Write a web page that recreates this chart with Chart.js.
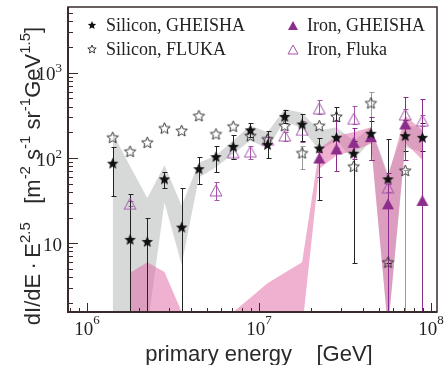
<!DOCTYPE html>
<html>
<head>
<meta charset="utf-8">
<script src="https://cdn.jsdelivr.net/npm/chart.js@4.4.0/dist/chart.umd.min.js"></script>
<style>
  html, body { margin: 0; padding: 0; background: #fff; }
</style>
</head>
<body>
<canvas id="chart" width="446" height="365"></canvas>
<script>
// energy bin centres [GeV]
const energy = [1.41e6, 1.78e6, 2.24e6, 2.82e6, 3.55e6, 4.47e6, 5.62e6, 7.08e6, 8.91e6, 1.12e7,
                1.41e7, 1.78e7, 2.24e7, 2.82e7, 3.55e7, 4.47e7, 5.62e7, 7.08e7, 8.91e7];

// Silicon, GHEISHA (filled stars)
const siGheisha   = [87, 11.1, 10.5, 57, 15.5, 75, 104, 137, 214, 144, 308, 251, 131, 175, 114, 195, 57, 183, 175];
const siGheishaLo = [35.5, 1, 1, 45, 1, 49, 68, 98, 175, 100, 260, 160, 32, 130, 5.8, 94, 5.8, 120, 120];
const siGheishaHi = [136, 38, 20, 68, 44, 102, 140, 188, 258, 209, 369, 329, 170, 400, 160, 270, 168, 280, 260];

// Silicon, FLUKA (open stars)
const siFluka   = [175, 120, 153, 225, 210, 314, 192, 236, 183, 167, 240, 115, 240, 308, 80, 443, 6.0, 71.5, null];
const siFlukaLo = [null, null, null, null, null, null, null, null, null, null, null, 75, null, null, null, 300, null, 1, null];
const siFlukaHi = [null, null, null, null, null, null, null, null, null, null, null, 140, null, null, null, 603, null, 71.5, null];

// Iron, GHEISHA (filled triangles)
const feGheisha   = [null, null, null, null, null, null, null, null, null, null, null, null, 100, 128, 153, 178, 29, 251, 31.8];
const feGheishaLo = [null, null, null, null, null, null, null, null, null, null, null, null, 60, 71, 98, 94, 1, 94, 1];
const feGheishaHi = [null, null, null, null, null, null, null, null, null, null, null, null, 117, 275, 224, 300, 66, 515, 490];

// Iron, Fluka (open triangles)
const feFluka   = [null, 29, null, null, null, null, 41.7, 117, 119, 163, 183, 214, 383, null, 288, null, 44.8, 323, 275];
const feFlukaLo = [null, 27, null, null, null, null, 32.5, 98, 98, 150, 160, 153, 329, null, 251, null, 40, 280, 240];
const feFlukaHi = [null, 31, null, null, null, null, 52.5, 128, 140, 175, 200, 275, 479, null, 411, null, 50, 380, 320];

// shaded bands (grey: silicon, pink: iron)
const greyUp = [195, 80, 34, 82, 27.5, 88, 107, 160, 240, 200, 376, 340, 210, 229, 159, 229, 66, 240, 229];
const greyLo = [1, 1, 1, 30, 5.6, 59, 78, 112, 160, 129, 275, 220, 123, 159, 94, 159, 1, 135, 117];
const pinkUp = [null, 4.5, 6.0, 4.6, 1.56, null, null, 1.56, 2.3, 3.4, 4.5, 6.0, 128, 183, 200, 229, 60, 315, 210];
const pinkLo = [null, 1, 1, 1, 1, null, null, 1, 1, 1, 1, 1, 75, 107, 122, 147, 1, 150, 95];

// axes
const xRange = [7.75e5, 1.083e8];
const yRange = [1.56, 5916];
const xMajor = [1e6, 1e7, 1e8];
const xTickExp = ['6', '7', '8'];
const xMinor = [8e5, 9e5, 2e6, 3e6, 4e6, 5e6, 6e6, 7e6, 8e6, 9e6, 2e7, 3e7, 4e7, 5e7, 6e7, 7e7, 8e7, 9e7];
const yMajor = [10, 100, 1000];
const yTickExp = ['', '2', '3'];
const yMinor = [2, 3, 4, 5, 6, 7, 8, 9, 20, 30, 40, 50, 60, 70, 80, 90,
                200, 300, 400, 500, 600, 700, 800, 900, 2000, 3000, 4000, 5000];

const DARK = '#222';
const FRAME = '#3a2b2b';
const PURPLE = '#8c2d8c';
const LILAC = '#a455a8';

function starIcon(R, filled) {
  const s = Math.ceil(R * 2 + 3);
  const c = document.createElement('canvas');
  c.width = c.height = s;
  const g = c.getContext('2d');
  const cx = s / 2, cy = s / 2 + R * 0.1;
  g.beginPath();
  for (let k = 0; k < 10; k++) {
    const r = k % 2 ? R * 0.45 : R;
    const a = -Math.PI / 2 + k * Math.PI / 5;
    g.lineTo(cx + r * Math.cos(a), cy + r * Math.sin(a));
  }
  g.closePath();
  if (filled) { g.fillStyle = '#111'; g.fill(); }
  else { g.strokeStyle = '#222'; g.lineWidth = 0.9; g.stroke(); }
  return c;
}

function triIcon(w, filled, color) {
  const h = Math.round(w * 0.9);
  const c = document.createElement('canvas');
  c.width = w + 2; c.height = h + 2;
  const g = c.getContext('2d');
  g.beginPath();
  g.moveTo(1 + w / 2, 1);
  g.lineTo(1 + w, 1 + h);
  g.lineTo(1, 1 + h);
  g.closePath();
  if (filled) { g.fillStyle = color; g.fill(); }
  else { g.strokeStyle = color; g.lineWidth = 1; g.stroke(); }
  return c;
}

const icons = {
  siG: starIcon(6, true),
  siF: starIcon(6, false),
  feG: triIcon(12, true, PURPLE),
  feF: triIcon(12, false, LILAC),
  siGl: starIcon(4.4, true),
  siFl: starIcon(4.4, false),
  feGl: triIcon(10, true, PURPLE),
  feFl: triIcon(10, false, LILAC)
};

const pts = (arr) => energy.map((e, i) => ({ x: e, y: arr[i] })).filter(p => p.y != null);

// split band arrays into contiguous runs
function runs(up, lo) {
  const out = [];
  let cur = null;
  up.forEach((v, i) => {
    if (v == null) { cur = null; return; }
    if (!cur) { cur = { up: [], lo: [] }; out.push(cur); }
    cur.up.push({ x: energy[i], y: v });
    cur.lo.push({ x: energy[i], y: lo[i] });
  });
  return out;
}

const datasets = [];
function addBand(up, lo, color, order) {
  runs(up, lo).forEach(r => {
    const idx = datasets.length;
    datasets.push({ type: 'line', data: r.up, fill: idx + 1, backgroundColor: color,
      borderColor: 'transparent', borderWidth: 0, pointRadius: 0, order: order });
    datasets.push({ type: 'line', data: r.lo, fill: false,
      borderColor: 'transparent', borderWidth: 0, pointRadius: 0, order: order });
  });
}
addBand(greyUp, greyLo, '#d7d9d8', 20);
addBand(pinkUp, pinkLo, 'rgba(226,100,163,0.5)', 15);

function addMarkers(arr, icon, order) {
  datasets.push({ type: 'scatter', data: pts(arr), pointStyle: icon, pointRadius: 6,
    marker: true, order: order, clip: false });
}
addMarkers(feFluka, icons.feF, 4);
addMarkers(feGheisha, icons.feG, 3);
addMarkers(siFluka, icons.siF, 2);
addMarkers(siGheisha, icons.siG, 1);

const errorSets = [
  { lo: siFlukaLo, hi: siFlukaHi, color: '#9a9a9a' },
  { lo: feFlukaLo, hi: feFlukaHi, color: LILAC },
  { lo: siGheishaLo, hi: siGheishaHi, color: DARK },
  { lo: feGheishaLo, hi: feGheishaHi, color: PURPLE }
];

function drawErrors(chart) {
  const { ctx, chartArea: a, scales: { x, y } } = chart;
  ctx.save();
  ctx.beginPath();
  ctx.rect(a.left, a.top, a.right - a.left, a.bottom - a.top);
  ctx.clip();
  ctx.lineWidth = 1;
  errorSets.forEach(s => {
    ctx.strokeStyle = s.color;
    s.lo.forEach((lo, i) => {
      if (lo == null) return;
      const px = Math.round(x.getPixelForValue(energy[i])) + 0.5;
      const p1 = Math.round(y.getPixelForValue(s.hi[i])) + 0.5;
      const p0 = Math.round(y.getPixelForValue(lo)) + 0.5;
      ctx.beginPath();
      ctx.moveTo(px, p1); ctx.lineTo(px, p0);
      ctx.moveTo(px - 2, p1); ctx.lineTo(px + 3, p1);
      ctx.moveTo(px - 2, p0); ctx.lineTo(px + 3, p0);
      ctx.stroke();
    });
  });
  ctx.restore();
}

// text with superscripts
function richWidth(ctx, parts, big, small) {
  let w = 0;
  parts.forEach(p => { ctx.font = p.sup ? small : big; w += ctx.measureText(p.t).width; });
  return w;
}
function drawRich(ctx, parts, x, y, big, small, rise) {
  let cx = x;
  parts.forEach(p => {
    ctx.font = p.sup ? small : big;
    ctx.fillText(p.t, cx, p.sup ? y - rise : y);
    cx += ctx.measureText(p.t).width;
  });
}

const SERIF = '"Liberation Serif", "Times New Roman", serif';
const SANS = '"Liberation Sans", Arial, sans-serif';
let errorsDone = false;

const decor = {
  id: 'decor',
  beforeDatasetsDraw() { errorsDone = false; },
  beforeDatasetDraw(chart, args) {
    if (!errorsDone && chart.data.datasets[args.index].marker) {
      drawErrors(chart);
      errorsDone = true;
    }
  },
  afterDraw(chart) {
    const { ctx, chartArea: a, scales: { x, y } } = chart;
    ctx.save();
    ctx.fillStyle = DARK;
    ctx.textBaseline = 'alphabetic';

    // tick marks (inward)
    ctx.strokeStyle = FRAME;
    ctx.lineWidth = 1;
    ctx.beginPath();
    xMajor.forEach(v => { const p = Math.round(x.getPixelForValue(v)) + 0.5; ctx.moveTo(p, a.bottom); ctx.lineTo(p, a.bottom - 9); });
    xMinor.forEach(v => { const p = Math.round(x.getPixelForValue(v)) + 0.5; ctx.moveTo(p, a.bottom); ctx.lineTo(p, a.bottom - 4); });
    yMajor.forEach(v => { const p = Math.round(y.getPixelForValue(v)) + 0.5; ctx.moveTo(a.left, p); ctx.lineTo(a.left + 10, p); });
    yMinor.forEach(v => { const p = Math.round(y.getPixelForValue(v)) + 0.5; ctx.moveTo(a.left, p); ctx.lineTo(a.left + 5, p); });
    ctx.stroke();

    // frame
    ctx.lineWidth = 1.5;
    ctx.strokeRect(a.left, a.top, a.right - a.left, a.bottom - a.top);
    ctx.lineWidth = 2;
    ctx.beginPath();
    ctx.moveTo(a.left, a.top); ctx.lineTo(a.left, a.bottom); ctx.lineTo(a.right, a.bottom);
    ctx.stroke();

    // tick labels
    const big = '19px ' + SERIF, small = '13px ' + SERIF;
    xMajor.forEach((v, i) => {
      const parts = [{ t: '10' }, { t: xTickExp[i], sup: true }];
      const w = richWidth(ctx, parts, big, small);
      drawRich(ctx, parts, x.getPixelForValue(v) - w / 2, 335, big, small, 11);
    });
    yMajor.forEach((v, i) => {
      const parts = [{ t: '10' }];
      if (yTickExp[i]) parts.push({ t: yTickExp[i], sup: true });
      const w = richWidth(ctx, parts, big, small);
      const p = y.getPixelForValue(v);
      drawRich(ctx, parts, 62 - w, p + 7.5, big, small, 8);
    });

    // axis titles
    ctx.fillStyle = '#2a2a2a';
    ctx.font = '22px ' + SANS;
    ctx.textAlign = 'center';
    ctx.fillText('primary energy    [GeV]', 259, 361);
    ctx.textAlign = 'left';

    const tBig = '22px ' + SANS, tSmall = '15px ' + SANS;
    const yTitle = [
      { t: 'dI/dE\u2009\u00b7\u2009E' }, { t: '2.5', sup: true },
      { t: '   [m' }, { t: '-2', sup: true }, { t: ' s' }, { t: '-1', sup: true },
      { t: ' sr' }, { t: '-1', sup: true }, { t: 'GeV' }, { t: '1.5', sup: true }, { t: ']' }
    ];
    ctx.save();
    ctx.translate(40, 176);
    ctx.rotate(-Math.PI / 2);
    const tw = richWidth(ctx, yTitle, tBig, tSmall);
    drawRich(ctx, yTitle, -tw / 2, 0, tBig, tSmall, 10);
    ctx.restore();

    // legend
    ctx.fillStyle = DARK;
    ctx.font = '18px ' + SERIF;
    const leg = [
      [icons.siGl, 'Silicon, GHEISHA', 92, 25],
      [icons.siFl, 'Silicon, FLUKA', 92, 49],
      [icons.feGl, 'Iron, GHEISHA', 293, 25],
      [icons.feFl, 'Iron, Fluka', 293, 49]
    ];
    leg.forEach(([ic, label, cx, cy]) => {
      ctx.drawImage(ic, Math.round(cx - ic.width / 2), Math.round(cy - ic.height / 2));
      ctx.fillText(label, cx + 14, cy + 6);
    });
    ctx.restore();
  }
};

new Chart(document.getElementById('chart'), {
  data: { datasets },
  options: {
    responsive: false,
    animation: false,
    events: [],
    layout: { padding: { left: 68, top: 6, right: 9, bottom: 53 } },
    plugins: { legend: { display: false }, tooltip: { enabled: false } },
    scales: {
      x: { type: 'logarithmic', min: xRange[0], max: xRange[1], display: false },
      y: { type: 'logarithmic', min: yRange[0], max: yRange[1], display: false }
    }
  },
  plugins: [decor]
});
</script>
</body>
</html>
